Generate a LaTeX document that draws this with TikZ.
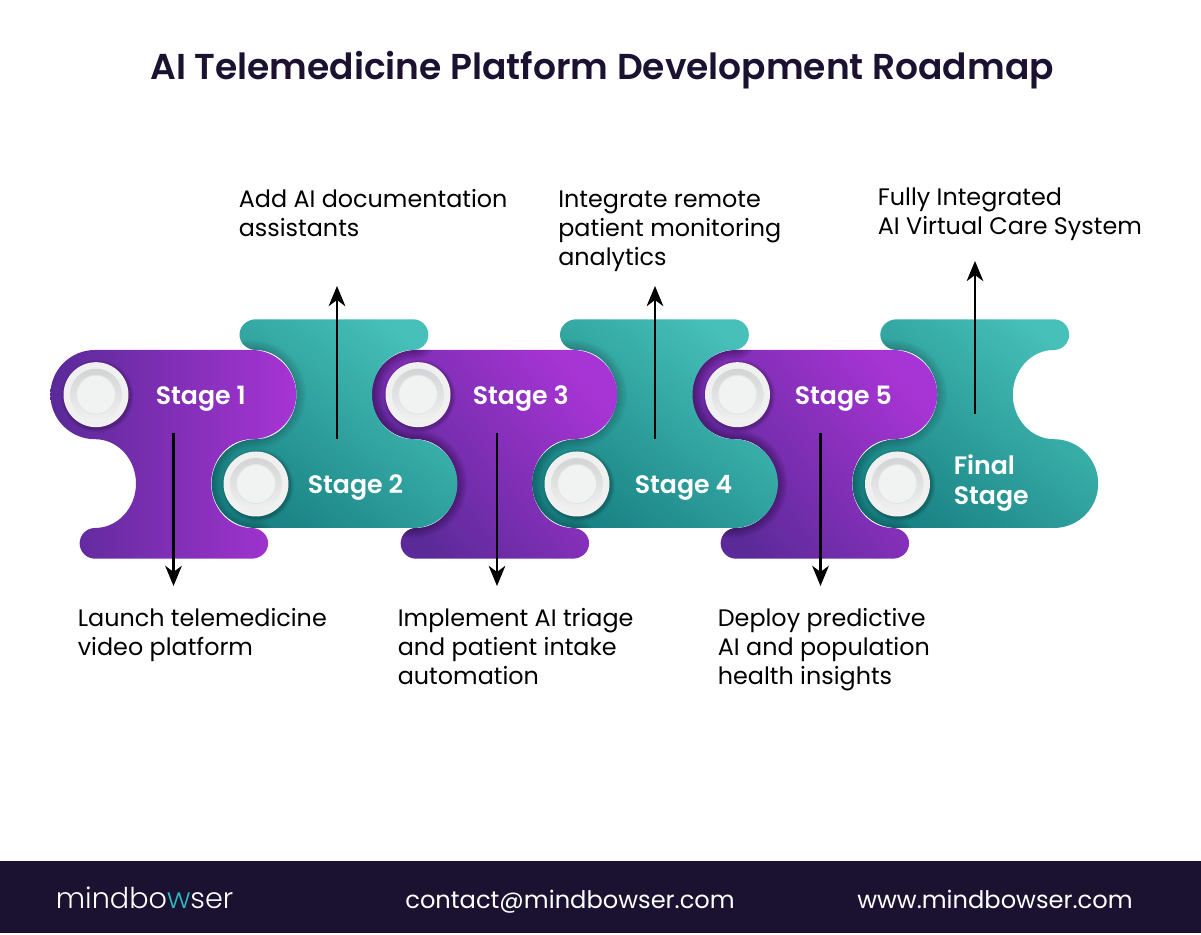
\documentclass[tikz,border=0pt]{standalone}
\usepackage{fontspec}
\setmainfont{Poppins}
\newfontfamily\psemi{Poppins SemiBold}
\newfontfamily\plight{Poppins Light}
\usetikzlibrary{arrows.meta}
\definecolor{ink}{HTML}{1B1130}
\definecolor{pdark}{HTML}{5A2A98}
\definecolor{pbright}{HTML}{A734D4}
\definecolor{tdark}{HTML}{1A8385}
\definecolor{tbright}{HTML}{46C0B8}
\definecolor{logoteal}{HTML}{2CBCC0}
\definecolor{discface}{HTML}{F1F3F3}
\definecolor{discrim}{HTML}{F0F0F0}
\definecolor{discgroove}{HTML}{D3D4D5}
\definecolor{discline}{HTML}{E2E3E3}
\newcommand{\px}[1]{\fontsize{\fpeval{#1*0.5692}}{\fpeval{#1*0.5692*1.215}}\selectfont}
% piece outlines (coordinates in reference pixels, y upward)
\newcommand{\Ppath}{(95.5,585) -- (251.6,585)
  arc[start angle=90,end angle=-90,radius=44.6]
  arc[start angle=90,end angle=270,x radius=40.5,y radius=44.4]
  arc[start angle=90,end angle=-90,x radius=16.5,y radius=15.35] -- (95,376.3)
  arc[start angle=270,end angle=90,radius=15.35]
  arc[start angle=-90,end angle=90,x radius=41,y radius=44.4]
  arc[start angle=-90,end angle=-270,radius=44.6] -- cycle}
\newcommand{\Tpath}{(413,407) -- (256,407)
  arc[start angle=270,end angle=90,radius=44.4]
  arc[start angle=-90,end angle=90,x radius=40.5,y radius=44.6]
  arc[start angle=-90,end angle=-270,x radius=16.5,y radius=15.35] -- (413,615.7)
  arc[start angle=90,end angle=-90,radius=15.35]
  arc[start angle=90,end angle=270,x radius=41,y radius=44.6]
  arc[start angle=90,end angle=-90,radius=44.4] -- cycle}
\newcommand{\castshadow}[5]{% caster shift, caster path, receiver shift, receiver path, opacity
  \begin{scope}
    \clip[shift={(#3,0)}] #4;
    \foreach \w in {2,4,...,20}
      \draw[shift={(#1,0)},black,opacity=#5,line width=\w*0.5692pt] #2;
  \end{scope}}
\newcommand{\disc}[3]{%
  \foreach \w/\o in {33.5/0.10,34.5/0.07,35.5/0.05,36.5/0.03}
    \fill[black,opacity=\o] (#2+1.5,#3-1.5) circle[radius=\w];
  \node[discouter] (#1) at (#2,#3) {};
  \node[discring] (#1r) at (#2,#3) {};
  \node[discinner] (#1i) at (#2,#3) {};}
\tikzset{
  x=0.02cm,y=0.02cm,
  discouter/.style={circle,fill=discrim,minimum size=65*0.02cm,inner sep=0pt},
  discring/.style={circle,top color=discgroove,bottom color=discrim,minimum size=52*0.02cm,inner sep=0pt},
  discinner/.style={circle,fill=discface,draw=discline,line width=0.5pt,minimum size=39*0.02cm,inner sep=0pt},
  flowarrow/.style={draw=black,line width=1.15pt,-{Stealth[length=11.5pt,width=9.5pt,inset=3.5pt]}},
  detail/.style={inner sep=0pt,anchor=north west,align=left,text=black,font=\px{23.85}},
  stagelabel/.style={inner sep=0pt,anchor=north west,align=left,text=white,font=\psemi\px{25.2}},
  footertext/.style={inner sep=0pt,anchor=base west,text=white,font=\px{24.15}},
}
\begin{document}
\begin{tikzpicture}
\useasboundingbox (0,0) rectangle (1201,935);
\fill[white] (0,0) rectangle (1201,935);
% pieces, painted from the last to the first
\shade[shift={(640.8,0)},bottom color=tdark,top color=tbright,shading angle=-38] \Tpath;
\castshadow{641}{\Ppath}{640.8}{\Tpath}{0.018}
\shade[shift={(641,0)},bottom color=pdark,top color=pbright,shading angle=-50] \Ppath;
\castshadow{320.5}{\Tpath}{641}{\Ppath}{0.032}
\shade[shift={(320.5,0)},bottom color=tdark,top color=tbright,shading angle=-38] \Tpath;
\castshadow{321}{\Ppath}{320.5}{\Tpath}{0.018}
\shade[shift={(321,0)},bottom color=pdark,top color=pbright,shading angle=-50] \Ppath;
\castshadow{0}{\Tpath}{321}{\Ppath}{0.032}
\shade[bottom color=tdark,top color=tbright,shading angle=-38] \Tpath;
\castshadow{0}{\Ppath}{0}{\Tpath}{0.018}
\shade[bottom color=pdark,top color=pbright,shading angle=-90] \Ppath;
% discs
\disc{d1}{96}{540.3}
\disc{d2}{256}{451}
\disc{d3}{418}{540.3}
\disc{d4}{577}{451}
\disc{d5}{737.5}{540.3}
\disc{d6}{897.5}{451}
% stage labels
\node[stagelabel] (s1) at (155.5,549) {Stage 1};
\node[stagelabel] (s2) at (307.5,460.5) {Stage 2};
\node[stagelabel] (s3) at (472.5,549.5) {Stage 3};
\node[stagelabel] (s4) at (634.5,460) {Stage 4};
\node[stagelabel] (s5) at (794.5,549) {Stage 5};
\node[stagelabel] (s6) at (953.5,481) {Final\\Stage};
% arrows
\coordinate (a1s) at (173.5,502); \coordinate (a1e) at (173.5,349);
\coordinate (a2s) at (337,496);   \coordinate (a2e) at (337,649);
\coordinate (a3s) at (497,502);   \coordinate (a3e) at (497,349);
\coordinate (a4s) at (655,496);   \coordinate (a4e) at (655,649);
\coordinate (a5s) at (820.5,502); \coordinate (a5e) at (820.5,349);
\coordinate (a6s) at (975,521);   \coordinate (a6e) at (975,674);
\foreach \n in {1,...,6} \draw[flowarrow] (a\n s) -- (a\n e);
% descriptions
\node[detail] (t1) at (77.5,327) {Launch telemedicine\\video platform};
\node[detail] (t2) at (238.5,746) {Add AI documentation\\assistants};
\node[detail] (t3) at (397.5,327) {Implement AI triage\\and patient intake\\automation};
\node[detail] (t4) at (558,744) {Integrate remote\\patient monitoring\\analytics};
\node[detail] (t5) at (717.5,327) {Deploy predictive\\AI and population\\health insights};
\node[detail] (t6) at (877.5,747) {Fully Integrated\\AI Virtual Care System};
% title
\node[inner sep=0pt,anchor=base west,text=ink,font=\psemi\px{36}] (title) at (150,855) {AI Telemedicine Platform Development Roadmap};
% footer
\fill[ink] (0,1.5) rectangle (1201,73.5);
\node[inner sep=0pt,anchor=base west,text=white,font=\plight\px{28.7}] (logo) at (55.5,26) {mindbo{\color{logoteal}w}ser};
\node[footertext] (mail) at (405,26) {contact@mindbowser.com};
\node[footertext] (web) at (857,26) {www.mindbowser.com};
\end{tikzpicture}
\end{document}
